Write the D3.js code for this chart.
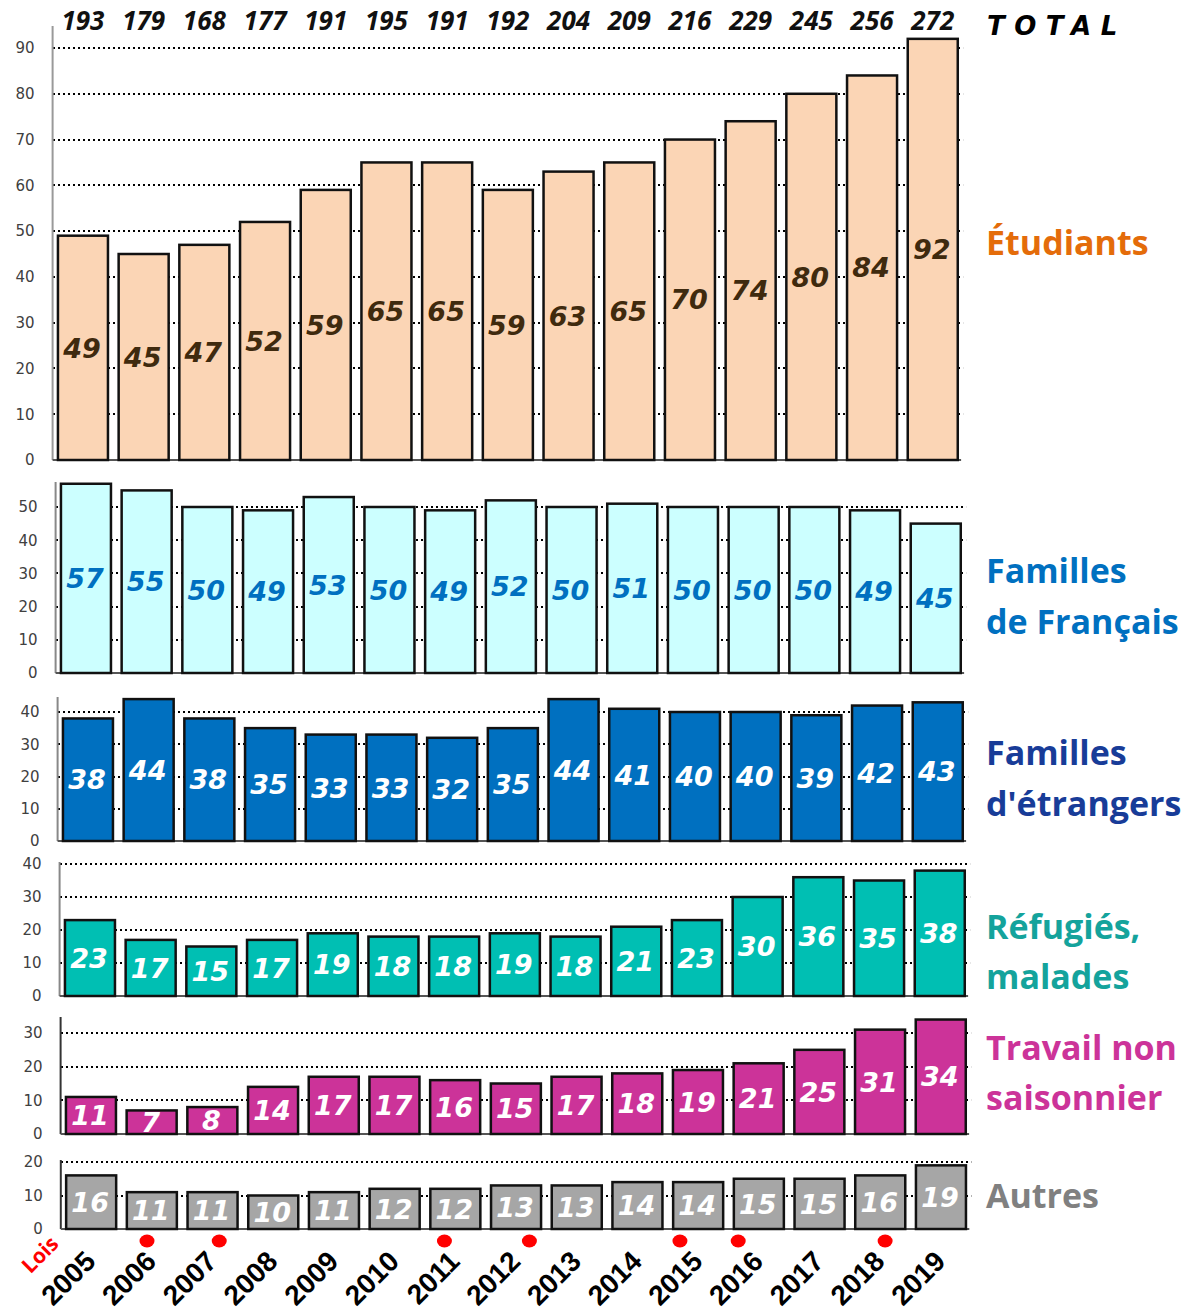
<!DOCTYPE html>
<html>
<head>
<meta charset="utf-8">
<script src="https://cdn.jsdelivr.net/npm/d3@7"></script>
<style>
  html, body { margin: 0; padding: 0; background: #fff; }
  svg { display: block; }
</style>
</head>
<body>
<svg id="chart" width="1195" height="1315"></svg>
<script>
// ---------- DATA ----------
const years = ["2005","2006","2007","2008","2009","2010","2011","2012","2013","2014","2015","2016","2017","2018","2019"];
const totals = [193,179,168,177,191,195,191,192,204,209,216,229,245,256,272];
const etudiants = [49,45,47,52,59,65,65,59,63,65,70,74,80,84,92];
const famillesFrancais = [57,55,50,49,53,50,49,52,50,51,50,50,50,49,45];
const famillesEtrangers = [38,44,38,35,33,33,32,35,44,41,40,40,39,42,43];
const refugies = [23,17,15,17,19,18,18,19,18,21,23,30,36,35,38];
const travail = [11,7,8,14,17,17,16,15,17,18,19,21,25,31,34];
const autres = [16,11,11,10,11,12,12,13,13,14,14,15,15,16,19];
const ticksEtudiants = [0,10,20,30,40,50,60,70,80,90];
const ticksFamFr = [0,10,20,30,40,50];
const ticksFamEtr = [0,10,20,30,40];
const ticksRefugies = [0,10,20,30,40];
const ticksTravail = [0,10,20,30];
const ticksAutres = [0,10,20];
// laws (position in year units, between bar centres)
const lawPositions = [2005.92, 2007.11, 2010.82, 2012.22, 2014.70, 2015.66, 2018.08];
const seriesNames = [["Étudiants"],["Familles","de Français"],["Familles","d'étrangers"],["Réfugiés,","malades"],["Travail non","saisonnier"],["Autres"]];

// ---------- LAYOUT ----------
const svg = d3.select("#chart");
const STEP = 60.7;
const panels = [
  {values: etudiants, ticks: ticksEtudiants, y0: 460, refVal: 90, refPx: 48, top: 26, left: 52.6,
   fill: "#FBD5B5", lab: "#3f2a0e", nameColor: "#E46C0A", nameY: [255], axis: "#999"},
  {values: famillesFrancais, ticks: ticksFamFr, y0: 673, refVal: 50, refPx: 507, top: 482, left: 55.6,
   fill: "#CCFFFF", lab: "#0070C0", nameColor: "#0070C0", nameY: [583, 634], axis: "#888"},
  {values: famillesEtrangers, ticks: ticksFamEtr, y0: 841, refVal: 40, refPx: 712, top: 697, left: 57.6,
   fill: "#0070C0", lab: "#ffffff", nameColor: "#183C98", nameY: [765, 816], axis: "#888"},
  {values: refugies, ticks: ticksRefugies, y0: 996, refVal: 40, refPx: 864, top: 862, left: 59.6,
   fill: "#00BFB3", lab: "#ffffff", nameColor: "#14A39C", nameY: [939, 989], axis: "#888"},
  {values: travail, ticks: ticksTravail, y0: 1134, refVal: 30, refPx: 1033, top: 1017, left: 60.6,
   fill: "#CC3399", lab: "#ffffff", nameColor: "#CC3399", nameY: [1060, 1110], axis: "#333"},
  {values: autres, ticks: ticksAutres, y0: 1229, refVal: 20, refPx: 1162, top: 1160, left: 60.8,
   fill: "#A6A6A6", lab: "#ffffff", nameColor: "#808080", nameY: [1208], axis: "#333"}
];

panels.forEach((p, i) => {
  const x = d3.scaleBand().domain(years)
    .range([p.left, p.left + STEP * years.length])
    .paddingInner(0.176).paddingOuter(0.088);
  const y = d3.scaleLinear().domain([0, p.refVal]).range([p.y0, p.refPx]);
  p.x = x; p.y = y;
  const g = svg.append("g");

  // gridlines (snapped to whole pixels so the dots stay crisp)
  g.selectAll("line.grid").data(p.ticks.filter(t => t > 0)).join("line")
    .attr("x1", Math.round(p.left)).attr("x2", p.left + STEP * years.length)
    .attr("y1", d => Math.round(y(d))).attr("y2", d => Math.round(y(d)))
    .attr("stroke", "#000").attr("stroke-width", 2)
    .attr("stroke-dasharray", "2,3");

  // y axis labels
  const ax = d3.axisLeft(y).tickValues(p.ticks).tickSize(0).tickPadding(18).tickFormat(d3.format("d"));
  const axg = g.append("g").attr("transform", `translate(${p.left},0)`).call(ax);
  axg.select(".domain").remove();
  axg.selectAll("text").attr("font-family", "'DejaVu Sans', Verdana, sans-serif")
    .attr("font-size", 15).attr("fill", "#404040");

  // axis lines
  g.append("line").attr("x1", p.left).attr("x2", p.left).attr("y1", p.top).attr("y2", p.y0)
    .attr("stroke", p.axis).attr("stroke-width", 2);
  g.append("line").attr("x1", p.left).attr("x2", p.left + STEP * years.length - 2)
    .attr("y1", p.y0).attr("y2", p.y0).attr("stroke", "#555").attr("stroke-width", 2);

  // bars
  g.selectAll("rect.bar").data(p.values).join("rect")
    .attr("x", (d, j) => x(years[j])).attr("width", x.bandwidth())
    .attr("y", d => y(d)).attr("height", d => p.y0 - y(d))
    .attr("fill", p.fill).attr("stroke", "#111").attr("stroke-width", 2.5);

  // value labels
  g.selectAll("text.val").data(p.values).join("text")
    .attr("x", (d, j) => x(years[j]) + x.bandwidth() / 2 - 1)
    .attr("y", d => (y(d) + p.y0) / 2)
    .attr("dy", "0.36em")
    .attr("text-anchor", "middle")
    .attr("font-family", "'DejaVu Sans', Verdana, sans-serif")
    .attr("font-weight", "bold").attr("font-style", "italic")
    .attr("font-size", 27).attr("fill", p.lab)
    .text(d => d);

  // series name
  const nt = g.append("text").attr("font-family", "'Open Sans', sans-serif")
    .attr("font-weight", "bold").attr("font-size", 34).attr("fill", p.nameColor);
  seriesNames[i].forEach((line, k) => {
    nt.append("tspan").attr("x", 986).attr("y", p.nameY[k]).text(line);
  });
});

// totals
const p0 = panels[0];
svg.append("g").selectAll("text").data(totals).join("text")
  .attr("x", (d, j) => p0.x(years[j]) + p0.x.bandwidth() / 2)
  .attr("y", 30)
  .attr("text-anchor", "middle")
  .attr("font-family", "'Open Sans', sans-serif")
  .attr("font-weight", "bold").attr("font-style", "italic")
  .attr("font-size", 26).attr("fill", "#111")
  .text(d => d);
svg.append("text").attr("x", 987).attr("y", 35)
  .attr("font-family", "'DejaVu Sans', Verdana, sans-serif")
  .attr("font-weight", "bold").attr("font-style", "italic")
  .attr("font-size", 26).attr("letter-spacing", 9.5).attr("fill", "#000")
  .text("TOTAL");

// years axis and law markers (based on bottom panel)
const pb = panels[5];
const xc = d3.scaleLinear().domain([2005, 2019])
  .range([pb.x("2005") + pb.x.bandwidth() / 2, pb.x("2019") + pb.x.bandwidth() / 2]);
svg.append("g").selectAll("ellipse").data(lawPositions).join("ellipse")
  .attr("cx", d => xc(d)).attr("cy", 1241).attr("rx", 7.5).attr("ry", 6.5)
  .attr("fill", "#FF0000");

svg.append("g").selectAll("text").data(years).join("text")
  .attr("transform", d => `translate(${pb.x(d) + pb.x.bandwidth() / 2 + 6},1263) rotate(-45)`)
  .attr("text-anchor", "end")
  .attr("font-family", "'Liberation Sans Narrow', 'Liberation Sans', Arial, sans-serif")
  .attr("font-weight", "bold").attr("font-size", 28).attr("fill", "#000")
  .text(d => d);

svg.append("text")
  .attr("transform", "translate(60,1245) rotate(-45)")
  .attr("text-anchor", "end")
  .attr("font-family", "'Open Sans', sans-serif")
  .attr("font-weight", "bold").attr("font-size", 21).attr("fill", "#FF0000")
  .text("Lois");
</script>
</body>
</html>
